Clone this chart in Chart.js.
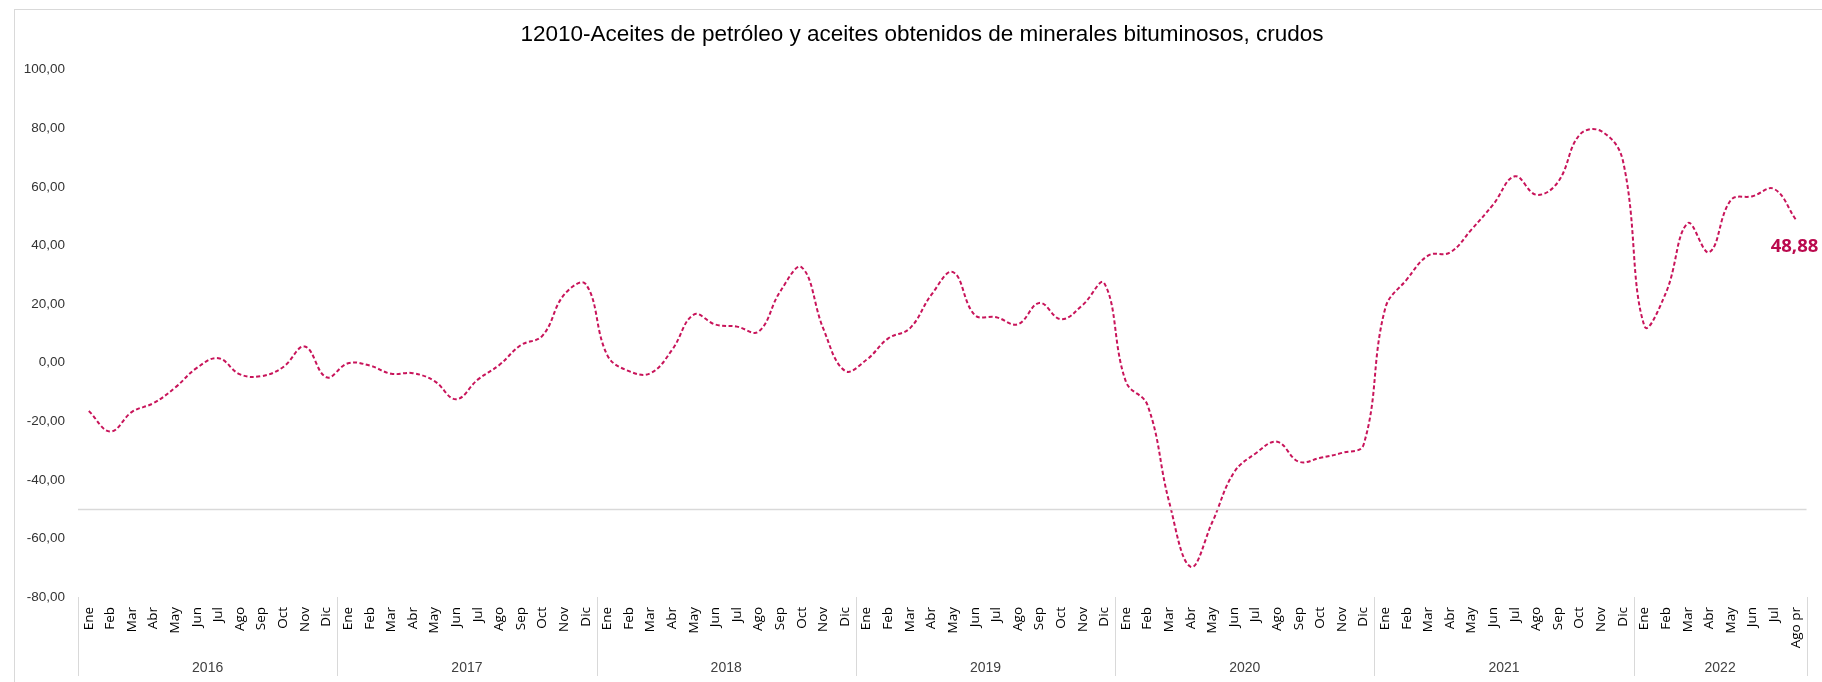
<!DOCTYPE html>
<html lang="es">
<head>
<meta charset="utf-8">
<title>12010-Aceites de petróleo</title>
<script src="https://cdn.jsdelivr.net/npm/chart.js@4.4.1/dist/chart.umd.min.js"></script>
<style>
    html, body { margin: 0; padding: 0; background: #fff; }
    #wrap { position: relative; width: 1822px; height: 682px; }
</style>
</head>
<body>
<div id="wrap"><canvas id="chart"></canvas></div>
<script>
// 数据
const titleText = '12010-Aceites de petróleo y aceites obtenidos de minerales bituminosos, crudos';
const months = ['Ene', 'Feb', 'Mar', 'Abr', 'May', 'Jun', 'Jul', 'Ago', 'Sep', 'Oct', 'Nov', 'Dic'];
const years = ['2016', '2017', '2018', '2019', '2020', '2021', '2022'];
const lastMonthLabel = 'Ago pr';
const yTicks = [-80, -60, -40, -20, 0, 20, 40, 60, 80, 100];
const crossValue = -50;

const v2016 = [-16.5, -23.5, -16.8, -13.8, -8.5, -1.8, 1.5, -4.0, -4.6, -1.5, 5.5, -5.0];
const v2017 = [-0.2, -1.0, -3.8, -3.6, -6.3, -12.5, -5.8, -0.8, 6.0, 9.2, 23.2, 26.8];
const v2018 = [2.5, -2.9, -3.6, 4.4, 16.4, 13.0, 12.3, 10.6, 24.3, 32.5, 11.5, -2.8];
const v2019 = [1.0, 8.3, 11.7, 23.2, 30.9, 16.3, 15.5, 13.1, 20.4, 14.8, 19.7, 27.1];
const v2020 = [-6.5, -14.5, -47.5, -69.7, -54.4, -37.5, -31.0, -27.0, -33.8, -32.5, -30.8, -28.0];
const v2021 = [18.5, 28.4, 36.6, 37.6, 45.5, 54.0, 63.6, 57.3, 61.7, 77.8, 79.0, 69.0];
const v2022 = [12.5, 24.0, 47.6, 37.7, 55.5, 56.8, 59.3, 48.88];

const yearValues = [v2016, v2017, v2018, v2019, v2020, v2021, v2022];

// 组装类别
const labels = [];
const yearStart = [];
yearValues.forEach(arr => {
    yearStart.push(labels.length);
    arr.forEach((_, m) => labels.push(months[m]));
});
labels[labels.length - 1] = lastMonthLabel;
const values = yearValues.flat();

const fmt = v => v.toFixed(2).replace('.', ',');
const lineColor = '#C8145A';
const narrowFont = '"Liberation Sans Narrow", "Liberation Sans", sans-serif';

// 边框 + 标题 + 年份轴
const decorPlugin = {
    id: 'decor',
    beforeDraw(chart) {
        const ctx = chart.ctx;
        ctx.save();
        ctx.strokeStyle = '#d9d9d9';
        ctx.lineWidth = 1;
        ctx.strokeRect(14.5, 9.5, 4000, 4000);
        ctx.restore();
    },
    afterDraw(chart) {
        const ctx = chart.ctx;
        const x = chart.scales.x;
        const y = chart.scales.y;
        const area = chart.chartArea;
        ctx.save();

        // 标题
        ctx.fillStyle = '#000';
        ctx.font = '22.5px "Liberation Sans", Arial, sans-serif';
        ctx.textAlign = 'center';
        ctx.textBaseline = 'middle';
        ctx.fillText(titleText, 922, 35);

        // 横轴线
        const yc = Math.round(y.getPixelForValue(crossValue)) + 0.5;
        ctx.strokeStyle = '#d9d9d9';
        ctx.lineWidth = 1.5;
        ctx.beginPath();
        ctx.moveTo(area.left, yc);
        ctx.lineTo(area.right, yc);
        ctx.stroke();

        // 年份分隔线和标签
        const edge = i => {
            if (i <= 0) return area.left;
            if (i >= labels.length) return area.right;
            return (x.getPixelForValue(i - 1) + x.getPixelForValue(i)) / 2;
        };
        ctx.lineWidth = 1;
        ctx.font = '14px ' + narrowFont;
        ctx.fillStyle = '#404040';
        const bounds = yearStart.concat([labels.length]);
        bounds.forEach(i => {
            const px = Math.round(edge(i)) + 0.5;
            ctx.beginPath();
            ctx.moveTo(px, area.bottom);
            ctx.lineTo(px, 676);
            ctx.stroke();
        });
        years.forEach((yr, k) => {
            const cx = (edge(bounds[k]) + edge(bounds[k + 1])) / 2;
            ctx.fillText(yr, cx, 668);
        });

        // 最后一个数值标签
        const meta = chart.getDatasetMeta(0);
        const pt = meta.data[meta.data.length - 1];
        ctx.fillStyle = '#BA0A4E';
        ctx.font = 'bold 18.5px "Open Sans", "Noto Sans", sans-serif';
        ctx.textAlign = 'left';
        ctx.fillText(fmt(values[values.length - 1]), pt.x - 25, pt.y + 27);
        ctx.restore();
    }
};

new Chart(document.getElementById('chart').getContext('2d'), {
    type: 'line',
    data: {
        labels: labels,
        datasets: [{
            data: values,
            borderColor: lineColor,
            borderWidth: 2,
            borderDash: [4, 2.5],
            pointRadius: 0,
            tension: 0.4,
            fill: false
        }]
    },
    options: {
        responsive: true,
        maintainAspectRatio: false,
        animation: false,
        layout: { padding: { top: 69.7, right: 13, bottom: 0, left: 0 } },
        plugins: {
            legend: { display: false },
            tooltip: { enabled: false }
        },
        scales: {
            x: {
                type: 'category',
                offset: true,
                grid: { display: false, drawTicks: false },
                border: { display: false },
                ticks: {
                    autoSkip: false,
                    minRotation: 90,
                    maxRotation: 90,
                    padding: 10,
                    color: '#000',
                    font: { family: '"Open Sans", "Noto Sans", sans-serif', size: 13.5 }
                },
                afterFit(scale) { scale.height = 85; }
            },
            y: {
                min: yTicks[0],
                max: yTicks[yTicks.length - 1],
                grid: { display: false, drawTicks: false },
                border: { display: false },
                afterBuildTicks(scale) { scale.ticks = yTicks.map(v => ({ value: v })); },
                ticks: {
                    padding: 13,
                    color: '#333',
                    font: { family: narrowFont, size: 13.5 },
                    callback: v => fmt(v)
                },
                afterFit(scale) { scale.width = 78; }
            }
        }
    },
    plugins: [decorPlugin]
});
</script>
</body>
</html>
